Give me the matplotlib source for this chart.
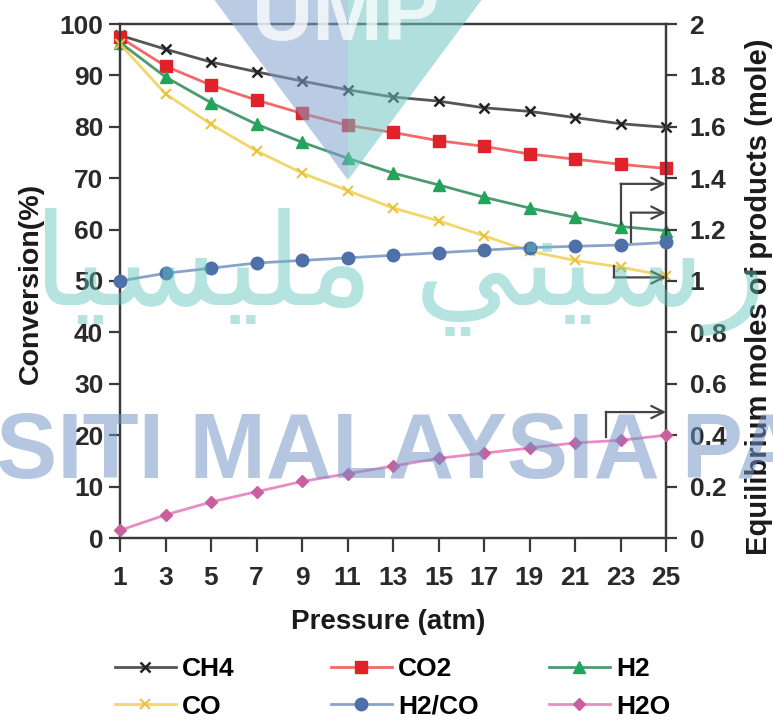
import matplotlib.pyplot as plt
from matplotlib.patches import Polygon

plt.rcParams['font.family'] = ['Liberation Sans', 'DejaVu Sans']

# pressure (atm)
pressure = [1, 3, 5, 7, 9, 11, 13, 15, 17, 19, 21, 23, 25]

# conversion (%)
ch4 = [97.8, 95.1, 92.6, 90.7, 88.9, 87.2, 85.8, 85.0, 83.7, 83.0, 81.8, 80.6, 79.9]
co2 = [97.4, 91.8, 88.1, 85.2, 82.6, 80.3, 78.9, 77.3, 76.2, 74.7, 73.7, 72.7, 71.9]
h2 = [96.4, 89.7, 84.7, 80.5, 77.0, 73.9, 71.0, 68.7, 66.3, 64.2, 62.4, 60.6, 59.8]
co = [96.1, 86.4, 80.5, 75.3, 71.0, 67.6, 64.2, 61.7, 58.8, 55.8, 54.0, 52.7, 51.0]

# equilibrium moles of products (mole)
h2_co = [1.00, 1.03, 1.05, 1.07, 1.08, 1.09, 1.10, 1.11, 1.12, 1.13, 1.135, 1.14, 1.15]
h2o = [0.03, 0.09, 0.14, 0.18, 0.22, 0.25, 0.28, 0.31, 0.33, 0.35, 0.37, 0.38, 0.40]

left_ticks = list(range(0, 101, 10))
right_ticks = [0, 0.2, 0.4, 0.6, 0.8, 1, 1.2, 1.4, 1.6, 1.8, 2]
right_labels = ['0', '0.2', '0.4', '0.6', '0.8', '1', '1.2', '1.4', '1.6', '1.8', '2']

W, H = 773, 723
fig = plt.figure(figsize=(W / 100, H / 100), dpi=100)
fig.patch.set_facecolor('white')


def px(x, y):
    return (x / W, 1 - y / H)


ax = fig.add_axes([120 / W, 1 - 538 / H, (666 - 120) / W, (538 - 24) / H])
ax2 = ax.twinx()

tick_kw = dict(fontsize=19, fontweight='bold', color='#2a2a2a')

series_left = [
    (ch4, 'CH4', dict(color='#555555', marker='x', ms=7, mew=1.8, mfc='#222222', mec='#222222')),
    (co2, 'CO2', dict(color='#f06a6a', marker='s', ms=9, mfc='#e0232b', mec='#e0232b')),
    (h2, 'H2', dict(color='#4c9a72', marker='^', ms=8, mfc='#22a45a', mec='#22a45a')),
    (co, 'CO', dict(color='#f2d66a', marker='x', ms=7, mew=1.5, mfc='#e8c440', mec='#e8c440')),
]
series_right = [
    (h2_co, 'H2/CO', dict(color='#8aa3cc', marker='o', ms=9, mfc='#4d70a8', mec='#4d70a8')),
    (h2o, 'H2O', dict(color='#e98bc4', marker='D', ms=6.5, mfc='#c8609f', mec='#c8609f')),
]

handles = {}
for vals, name, st in series_left:
    line, = ax.plot(pressure, vals, lw=2, clip_on=False, zorder=3, **st)
    handles[name] = line
for vals, name, st in series_right:
    line, = ax2.plot(pressure, vals, lw=2, clip_on=False, zorder=3, **st)
    handles[name] = line

ax.set_xlim(1, 25)
ax.set_ylim(0, 100)
ax2.set_ylim(0, 2)
ax.set_xticks(pressure)
ax.set_xticklabels([str(p) for p in pressure], **tick_kw)
ax.set_yticks(left_ticks)
ax.set_yticklabels([str(t) for t in left_ticks], **tick_kw)
ax2.set_yticks(right_ticks)
ax2.set_yticklabels(right_labels, **tick_kw)

for a in (ax, ax2):
    a.patch.set_visible(False)
    for s in a.spines.values():
        s.set_color('#3a3a3a')
        s.set_linewidth(1.6)
    a.tick_params(direction='out', length=8, width=1.6, color='#3a3a3a')
ax.tick_params(axis='y', pad=4)
ax.tick_params(axis='x', length=10, pad=10)
ax2.tick_params(axis='y', pad=9)

# bent arrows pointing to the mole axis
arrow_paths = [
    (22.7, 53.0, 50.7),
    (23.45, 57.2, 63.3),
    (23.0, 61.0, 68.9),
    (22.35, 19.7, 24.5),
]
for xa, y0, y1 in arrow_paths:
    ax.plot([xa, xa], [y0, y1], color='#444444', lw=1.6, zorder=4, clip_on=False)
    ax.annotate('', xy=(25, y1), xytext=(xa, y1),
                arrowprops=dict(arrowstyle='->', color='#444444', lw=1.6,
                                mutation_scale=22, shrinkA=0, shrinkB=0),
                zorder=4, annotation_clip=False)

fig.text(*px(388, 622), 'Pressure (atm)', ha='center', va='center',
         fontsize=20, fontweight='bold', color='#1a1a1a')
fig.text(*px(31, 283), 'Conversion(%)', ha='center', va='center', rotation=90,
         fontsize=20.5, fontweight='bold', color='#1a1a1a')
fig.text(*px(759, 297), 'Equilibrium moles of products (mole)', ha='center',
         va='center', rotation=90, fontsize=21, fontweight='bold', color='#1a1a1a')

legend_cols = [(['CH4', 'CO'], 115), (['CO2', 'H2/CO'], 331), (['H2', 'H2O'], 549)]
for names, x0 in legend_cols:
    fig.legend([handles[n] for n in names], names, loc='center left',
               bbox_to_anchor=px(x0, 688), frameon=False, numpoints=1,
               handlelength=2.3, handletextpad=0.25, labelspacing=0.5,
               borderaxespad=0, borderpad=0,
               prop=dict(family='Liberation Sans', weight='bold', size=19))

# watermark overlay
fig.patches.append(Polygon([px(213, -2), px(348, -2), px(348, 180)], closed=True,
                           transform=fig.transFigure, facecolor='#82a3cd',
                           edgecolor='none', alpha=0.55, zorder=10))
fig.patches.append(Polygon([px(348, -2), px(483, -2), px(348, 180)], closed=True,
                           transform=fig.transFigure, facecolor='#71c5c3',
                           edgecolor='none', alpha=0.55, zorder=10))
fig.text(*px(346, 40), 'UMP', ha='center', va='baseline', fontsize=61,
         fontweight='bold', color='white', alpha=0.75, zorder=11)
fig.text(*px(-4, 478), 'SITI MALAYSIA PA', ha='left', va='baseline', fontsize=66,
         fontweight='bold', color='#7193c5', alpha=0.52, zorder=10)
jawi = '\uFE8E\uFEF4\uFEB4\uFEF4\uFEE0\uFEE3 \uFEF2\uFE98\uFEF4\uFEB3\uFEAD'
fig.text(*px(400, 305), jawi, ha='center', va='baseline', fontsize=92,
         family=['DejaVu Sans'], color='#5cc2ba', alpha=0.45, zorder=10)

fig.savefig('out.png', dpi=100, facecolor='white')
